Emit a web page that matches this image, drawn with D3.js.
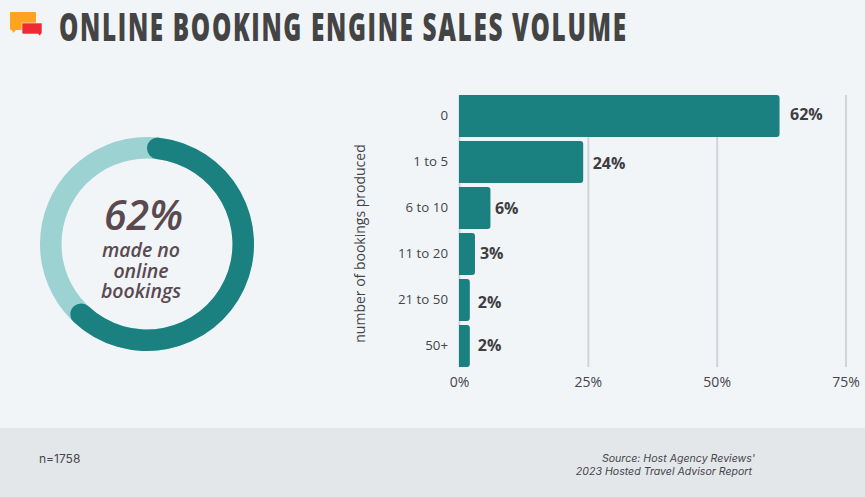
<!DOCTYPE html>
<html>
<head>
<meta charset="utf-8">
<script src="https://cdn.jsdelivr.net/npm/d3@7/dist/d3.min.js"></script>
<style>
  html, body { margin: 0; padding: 0; background: #f1f5f8; }
  svg { display: block; }
  .tick-label { font-family: "Open Sans", sans-serif; font-size: 14px; fill: #46444a; }
</style>
</head>
<body>
<svg id="chart" width="865" height="497"></svg>
<script>
  var categories = ["0", "1 to 5", "6 to 10", "11 to 20", "21 to 50", "50+"];
  var shares = [62.2, 24.1, 6.1, 3.1, 2.1, 2.1];
  var xTicks = [0, 25, 50, 75];
  var donutParts = [62, 38];
  var donutLines = ["made no", "online", "bookings"];
  var titleText = "ONLINE BOOKING ENGINE SALES VOLUME";
  var sampleText = "n=1758";
  var sourceLines = ["Source: Host Agency Reviews'", "2023 Hosted Travel Advisor Report"];

  var teal = "#1b8080";
  var lightTeal = "#9dd2d2";
  var svg = d3.select("#chart");

  // footer band
  svg.append("rect").attr("x", 0).attr("y", 428).attr("width", 865).attr("height", 69).attr("fill", "#e4e7ea");

  svg.append("text").attr("x", 39).attr("y", 463)
    .style("font-family", "Inter, sans-serif").style("font-size", "12px").attr("fill", "#46464a")
    .text(sampleText);

  svg.append("text").attr("y", 462)
    .attr("text-anchor", "end")
    .style("font-family", "Inter, sans-serif").style("font-size", "10.6px").style("font-style", "italic").attr("fill", "#46464a")
    .selectAll("tspan").data(sourceLines).enter().append("tspan")
    .attr("x", function(d, i) { return i == 0 ? 755 : 752; })
    .attr("dy", function(d, i) { return i == 0 ? 0 : 13; })
    .text(function(d) { return d; });

  // title and speech bubbles
  var icon = svg.append("g");
  icon.append("path").attr("fill", "#fea422")
    .attr("d", "M11 12H35Q36 12 36 13V29Q36 30 35 30H16L13 33L12 30H11Q10 30 10 29V13Q10 12 11 12Z");
  icon.append("path").attr("fill", "#ee2a35").attr("stroke", "#f1f5f8").attr("stroke-width", 0.6)
    .attr("d", "M23 23H42V33Q42 34 41 34H41L40 36L38 34H23Q22 34 22 33V24Q22 23 23 23Z");

  // no condensed face here: squeeze the bold one and open up the letter gaps
  var titleSqueeze = 0.64;
  svg.append("text").attr("transform", "translate(59,40.5) scale(" + titleSqueeze + ",1)")
    .attr("textLength", 567 / titleSqueeze).attr("lengthAdjust", "spacing")
    .style("font-family", "'Open Sans', sans-serif").style("font-weight", 800).style("font-size", "38px")
    .attr("fill", "#444444")
    .text(titleText);

  // donut: the dark arc has round ends, the far end runs one cap past the share
  var donut = svg.append("g").attr("transform", "translate(147,244)");
  var slices = d3.pie().sort(null)(donutParts);
  var capRadius = 10.75;
  var ringMid = 96;

  donut.append("path").attr("fill", lightTeal)
    .attr("d", d3.arc().innerRadius(85.5).outerRadius(107).startAngle(0).endAngle(2 * Math.PI)());
  donut.append("path").attr("fill", teal)
    .attr("d", d3.arc().innerRadius(85.5).outerRadius(107).cornerRadius(capRadius)
      .startAngle(slices[0].startAngle).endAngle(slices[0].endAngle + capRadius / ringMid)());

  donut.append("text").attr("text-anchor", "middle").attr("x", -3.5).attr("y", -14)
    .style("font-family", "'Open Sans', sans-serif").style("font-size", "41px")
    .style("font-style", "italic").style("font-weight", 600).attr("fill", "#5a4a50")
    .text(donutParts[0] + "%");

  donut.append("text").attr("text-anchor", "middle")
    .style("font-family", "'Open Sans', sans-serif").style("font-size", "19.5px")
    .style("font-style", "italic").style("font-weight", 600).attr("fill", "#5a4a50")
    .selectAll("tspan").data(donutLines).enter().append("tspan")
    .attr("x", -6).attr("y", function(d, i) { return 13 + i * 20.5; })
    .text(function(d) { return d; });

  // bar chart
  var x = d3.scaleLinear().domain([0, 75]).range([459, 845.5]);
  var bandH = 42;
  var y = d3.scalePoint().domain(categories).range([95 + bandH / 2, 325 + bandH / 2]);
  var gridBottom = 367;

  var xAxis = d3.axisBottom(x).tickValues(xTicks)
    .tickFormat(function(d) { return d + "%"; })
    .tickSize(-(gridBottom - 95)).tickPadding(10);

  var xG = svg.append("g").attr("transform", "translate(0," + gridBottom + ")").call(xAxis);
  xG.select(".domain").remove();
  xG.selectAll("line").attr("stroke", "#d0d5d9").attr("stroke-width", 2);
  xG.selectAll("text").attr("class", "tick-label");

  var yG = svg.append("g").attr("transform", "translate(448,-1)")
    .call(d3.axisLeft(y).tickSize(0).tickPadding(0));
  yG.select(".domain").remove();
  yG.selectAll("text").attr("class", "tick-label").style("font-size", "13.3px");

  function bar_path(d, i) {
    var r = 3;
    var top = y(categories[i]) - bandH / 2;
    var right = x(d);
    return "M" + x(0) + "," + top + "H" + (right - r) + "Q" + right + "," + top + " " + right + "," + (top + r)
      + "V" + (top + bandH - r) + "Q" + right + "," + (top + bandH) + " " + (right - r) + "," + (top + bandH)
      + "H" + x(0) + "Z";
  }

  svg.append("g").selectAll("path").data(shares).enter().append("path")
    .attr("fill", teal)
    .attr("d", bar_path);

  // value labels sit unevenly in the original
  var labelGapX = [10.5, 9.5, 4.5, 5, 8, 8];
  var labelShiftY = [-2, 1, 0, -1, 2, -1];

  svg.append("g").selectAll("text").data(shares).enter().append("text")
    .attr("x", function(d, i) { return x(d) + labelGapX[i]; })
    .attr("y", function(d, i) { return y(categories[i]) + 5.5 + labelShiftY[i]; })
    .style("font-family", "'Open Sans', sans-serif").style("font-size", "16px").style("font-weight", 700)
    .attr("fill", "#3f3d40")
    .text(function(d) { return Math.round(d) + "%"; });

  svg.append("text")
    .attr("transform", "translate(360.5,243.5) rotate(-90)")
    .attr("dy", "0.35em")
    .attr("text-anchor", "middle")
    .style("font-family", "'Open Sans', sans-serif").style("font-size", "14px").attr("fill", "#46444a")
    .text("number of bookings produced");
</script>
</body>
</html>
